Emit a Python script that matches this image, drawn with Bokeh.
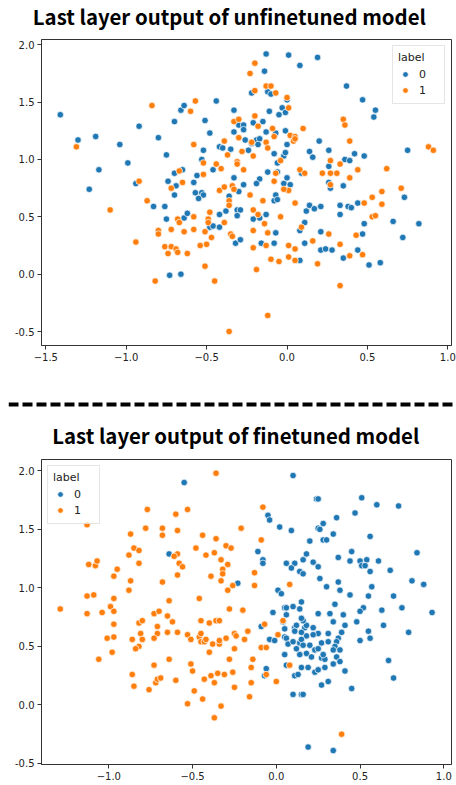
from bokeh.plotting import figure
from bokeh.layouts import column, row
from bokeh.models import Range1d, FixedTicker, CustomJSTickFormatter, PrintfTickFormatter, Span, Label
from bokeh.embed import file_html
from bokeh.resources import INLINE

# ---------------- data: unfinetuned (top) ----------------
top_title = "Last layer output of unfinetuned model"
top_x0 = [-1.41,-1.30,-1.19,-1.04,-1.17,-0.99,-0.92,-0.94,-0.80,-0.75,-0.74,-0.70,-0.66,-0.64,-0.70,-0.65,-0.69,-0.53,-0.52,-0.51,
          -0.48,-0.44,-0.56,-0.46,-0.58,-0.42,-0.40,-0.35,-0.33,-0.30,-0.27,-0.27,-0.33,-0.26,-0.24,-0.22,-0.19,-0.17,-0.18,-0.21,
          -0.15,-0.13,-0.07,-0.11,-0.05,-0.03,-0.01,0.00,-0.01,0.00,-0.02,-0.01,-0.06,-0.08,0.00,-0.06,-0.12,-0.17,-0.19,-0.27,
          -0.33,-0.14,-0.13,-0.22,-0.12,-0.10,0.01,0.08,0.19,0.09,0.14,0.16,0.20,0.26,0.26,0.26,0.37,0.36,0.39,0.42,
          0.48,0.47,0.55,0.54,0.35,0.75,0.27,
          -1.23,-0.70,-0.57,-0.53,-0.52,-0.55,-0.30,-0.36,-0.83,-0.76,-0.75,-0.64,-0.62,-0.48,-0.46,-0.42,-0.42,-0.38,-0.73,-0.66,
          -0.31,-0.29,-0.31,-0.32,-0.29,-0.21,-0.17,-0.13,-0.16,-0.08,-0.08,-0.07,-0.06,-0.07,0.08,0.08,0.11,0.12,0.14,0.17,
          0.21,0.11,0.21,0.21,0.24,0.28,0.33,0.33,0.38,0.40,0.44,0.48,0.47,0.44,0.35,0.51,0.58,0.66,0.72,0.82,
          0.73,-0.02,0.02]
top_y0 = [1.39,1.17,1.20,1.13,0.91,0.97,1.29,0.79,1.19,1.04,0.81,1.33,1.43,1.47,0.88,0.91,0.77,1.00,1.08,1.34,
          1.23,1.51,0.86,0.91,0.80,1.11,1.10,1.09,1.43,1.30,1.30,1.26,1.24,1.17,1.08,1.14,1.17,1.18,1.13,1.32,
          1.33,1.24,1.23,1.42,1.39,1.45,1.41,1.52,1.25,1.13,1.03,1.06,0.97,1.05,0.84,0.89,0.89,0.83,0.79,0.78,
          0.84,1.77,1.92,1.58,1.59,1.57,1.91,1.82,1.89,0.88,1.07,1.02,1.16,1.08,0.94,0.80,1.64,1.00,0.99,1.05,
          1.03,1.52,1.43,1.37,0.77,1.08,0.75,
          0.74,0.69,0.71,0.71,0.69,0.66,0.72,0.68,0.59,0.59,0.48,0.49,0.53,0.41,0.42,0.52,0.41,0.55,-0.01,0.00,
          0.56,0.56,0.51,0.27,0.30,0.48,0.49,0.52,0.27,0.27,0.64,0.69,0.65,0.36,0.12,0.38,0.45,0.55,0.60,0.57,
          0.59,0.27,0.37,0.21,0.22,0.21,0.60,0.52,0.59,0.58,0.62,0.44,0.35,0.21,0.14,0.08,0.10,0.46,0.32,0.44,
          0.67,0.79,0.78]
top_x1 = [-1.31,-0.92,-0.84,-0.60,-0.57,-0.67,-0.65,-0.58,-0.52,-0.52,-0.44,-0.41,-0.39,-0.37,-0.33,-0.30,-0.30,-0.28,-0.21,-0.22,
          -0.18,-0.20,-0.13,-0.09,-0.08,-0.12,0.00,0.01,0.02,0.05,0.04,0.05,-0.04,-0.07,-0.08,-0.31,-0.31,-0.27,-0.34,-0.23,
          -0.20,-0.20,-0.13,-0.10,-0.07,0.10,0.08,0.11,0.22,0.27,0.27,0.31,0.27,0.33,0.35,0.36,0.39,0.39,0.44,0.62,
          0.88,0.91,
          -0.72,-0.42,-0.39,-0.33,-0.23,-0.36,-0.36,-0.87,-1.10,-0.80,-0.80,-0.72,-0.94,-0.76,-0.72,-0.69,-0.74,-0.68,-0.62,-0.68,
          -0.67,-0.64,-0.58,-0.58,-0.54,-0.50,-0.51,-0.48,-0.49,-0.49,-0.47,-0.39,-0.51,-0.45,-0.82,-0.35,-0.34,-0.36,-0.21,-0.18,
          -0.15,-0.21,-0.14,-0.12,-0.13,-0.21,-0.10,-0.05,-0.19,-0.12,-0.04,0.01,-0.02,0.05,0.01,0.05,0.01,0.05,0.09,0.16,
          0.19,0.26,0.48,0.43,0.33,0.47,0.39,0.33,0.53,0.59,0.59,0.53,0.55,0.71]
top_y1 = [1.11,0.81,1.47,1.42,1.51,0.90,0.80,1.13,0.97,0.87,0.96,0.92,1.16,1.04,1.33,1.35,1.19,1.07,1.03,1.15,
          1.29,1.38,1.15,1.27,1.20,1.10,1.54,1.45,1.21,1.20,1.16,1.18,0.99,0.88,0.81,0.98,0.96,0.91,0.77,1.75,
          1.84,1.60,1.64,1.64,1.58,1.27,0.91,0.88,0.88,0.99,0.88,0.88,0.78,0.96,1.35,1.30,1.16,0.84,0.91,0.92,
          1.11,1.08,
          0.75,0.73,0.76,0.74,0.69,0.64,0.60,0.64,0.56,0.38,0.35,0.39,0.28,0.24,0.24,0.22,0.18,0.19,0.18,0.48,
          0.45,0.37,0.39,0.50,0.25,0.26,0.37,0.54,0.48,0.45,0.32,0.45,0.07,-0.06,-0.06,0.35,0.33,-0.50,0.56,0.52,
          0.64,0.38,0.44,0.36,0.25,0.23,0.13,0.11,0.04,-0.36,0.50,0.73,0.74,0.62,0.25,0.22,0.15,0.12,0.41,0.29,
          0.09,0.35,0.62,0.34,0.26,0.17,0.16,-0.10,0.67,0.72,0.61,0.50,0.51,0.75]
top_xrange = (-1.527, 1.023)
top_yrange = (-0.622, 2.046)
top_xticks = [-1.5, -1.0, -0.5, 0.0, 0.5, 1.0]
top_yticks = [-0.5, 0.0, 0.5, 1.0, 1.5, 2.0]

# ---------------- data: finetuned (bottom) ----------------
bot_title = "Last layer output of finetuned model"
bot_x0 = [-0.55,0.10,-0.64,-0.11,-0.08,-0.08,-0.05,-0.04,0.02,0.09,0.20,0.24,0.25,0.25,0.26,0.28,0.28,0.30,0.34,0.36,
          0.47,0.51,0.60,0.73,0.56,0.45,0.37,0.18,0.16,0.22,0.25,0.06,0.11,0.09,0.14,0.16,0.26,0.44,0.50,0.54,
          0.61,0.51,0.53,0.56,0.68,0.84,0.81,0.37,
          -0.23,0.30,0.38,0.44,0.55,0.57,0.70,0.88,0.75,0.93,0.79,0.63,0.64,0.52,0.50,0.55,0.56,0.50,0.48,0.67,
          0.70,0.45,0.41,0.35,0.32,0.40,0.34,0.41,0.39,0.37,0.36,0.35,0.34,0.38,0.36,0.38,0.34,0.31,0.27,0.31,
          0.25,0.25,0.22,0.22,0.18,0.17,0.18,0.16,0.15,0.15,0.14,0.10,0.05,0.06,0.06,-0.02,-0.09,0.01,0.03,0.04,
          0.05,0.05,0.06,0.07,0.05,0.06,0.11,0.12,0.11,0.15,0.10,0.12,0.14,0.15,0.16,0.18,0.14,0.20,0.21,0.23,
          0.25,0.27,0.29,0.28,0.23,0.25,0.29,0.15,0.19,0.11,0.13,0.27,0.31,0.10,0.15,0.16,0.19,0.34,-0.06,-0.07,
          -0.04,-0.01]
bot_y0 = [1.90,1.96,1.29,1.31,1.24,1.21,1.62,1.58,1.52,1.49,1.40,1.76,1.76,1.51,1.50,1.55,1.41,1.41,1.46,1.60,
          1.64,1.77,1.71,1.70,1.44,1.31,1.26,1.29,1.24,1.22,1.18,1.21,1.21,1.17,1.14,1.12,1.08,1.23,1.23,1.24,
          1.23,1.19,1.19,1.14,1.15,1.30,1.06,1.05,
          1.04,1.01,0.98,0.94,0.93,1.01,0.93,1.03,0.83,0.79,0.62,0.81,0.68,0.83,0.80,0.63,0.57,0.55,0.71,0.38,
          0.23,0.14,0.29,0.86,0.78,0.77,0.71,0.68,0.62,0.57,0.54,0.50,0.47,0.47,0.41,0.37,0.35,0.61,0.53,0.54,
          0.78,0.61,0.66,0.60,0.59,0.66,0.68,0.72,0.74,0.88,0.82,0.84,0.83,0.83,0.77,0.79,0.67,0.98,0.95,0.71,
          0.65,0.58,0.57,0.52,0.43,0.34,0.66,0.68,0.63,0.62,0.54,0.48,0.53,0.56,0.51,0.44,0.43,0.51,0.41,0.47,
          0.48,0.40,0.39,0.43,0.28,0.30,0.32,0.32,0.32,0.25,0.26,0.17,0.20,0.09,0.09,0.09,-0.36,-0.39,0.31,0.25,
          0.56,0.55]
bot_x1 = [-0.36,-1.13,-0.77,-0.60,-0.53,-0.87,-0.78,-0.68,-0.68,-0.59,-0.44,-0.36,-0.21,-0.08,-0.09,-0.85,-0.82,-0.88,-0.82,-1.12,
          -1.08,-1.07,-0.95,-0.97,-0.87,-0.68,-0.59,-0.61,-0.58,-0.56,-0.59,-0.48,-0.42,-0.37,-0.30,-0.27,-0.33,-0.29,-0.32,-0.32,
          -0.39,-0.13,
          -0.33,-0.26,-0.29,-0.13,0.08,0.39,0.04,0.01,0.00,0.08,-0.07,-0.09,-0.06,-0.06,-1.29,-1.13,-1.09,-1.13,-0.97,-0.88,
          -0.99,-1.04,-0.97,-0.97,-1.01,-0.97,-1.06,-0.98,-0.86,-0.82,-0.80,-0.81,-0.80,-0.82,-0.84,-0.86,-0.85,-0.76,-0.73,-0.70,
          -0.71,-0.71,-0.73,-0.73,-0.72,-0.71,-0.69,-0.64,-0.65,-0.62,-0.65,-0.64,-0.60,-0.59,-0.53,-0.51,-0.51,-0.50,-0.53,-0.49,
          -0.46,-0.46,-0.45,-0.45,-0.45,-0.43,-0.42,-0.43,-0.44,-0.40,-0.40,-0.38,-0.39,-0.37,-0.37,-0.36,-0.34,-0.34,-0.34,-0.35,
          -0.33,-0.31,-0.30,-0.28,-0.25,-0.24,-0.25,-0.25,-0.28,-0.26,-0.20,-0.19,-0.17,-0.16,-0.15,-0.15,-0.14]
bot_y1 = [1.98,1.54,1.67,1.63,1.67,1.46,1.51,1.51,1.45,1.49,1.45,1.42,1.51,1.69,1.41,1.34,1.32,1.28,1.21,1.20,
          1.19,1.23,1.16,1.10,1.06,1.05,1.29,1.27,1.21,1.18,1.11,1.34,1.28,1.30,1.36,1.34,1.24,1.20,1.16,1.12,
          1.10,1.13,
          1.06,1.02,0.98,1.02,1.03,-0.25,0.72,0.60,0.20,0.34,0.69,0.49,0.49,0.26,0.82,0.93,0.94,0.78,0.91,0.98,
          0.84,0.79,0.80,0.69,0.57,0.58,0.39,0.45,0.56,0.70,0.72,0.61,0.56,0.50,0.48,0.26,0.16,0.13,0.78,0.80,
          0.67,0.61,0.57,0.34,0.19,0.22,0.23,0.89,0.76,0.71,0.62,0.39,0.21,0.62,0.60,0.56,0.35,0.29,0.01,0.12,
          0.91,0.58,0.72,0.61,0.54,0.54,0.56,0.22,0.05,0.70,0.45,0.52,0.25,0.19,-0.11,0.72,0.72,0.52,0.55,0.27,
          -0.01,0.26,0.57,0.82,0.61,0.59,0.48,0.15,0.39,0.28,0.81,0.56,0.63,0.07,0.19,0.32,0.39]
bot_xrange = (-1.402, 1.046)
bot_yrange = (-0.509, 2.097)
bot_xticks = [-1.0, -0.5, 0.0, 0.5, 1.0]
bot_yticks = [-0.5, 0.0, 0.5, 1.0, 1.5, 2.0]

labels = ["0", "1"]
colors = ["#1f77b4", "#ff7f0e"]

TITLE_FONT = "Noto Sans CJK KR"
TICK_FONT = "DejaVu Sans"
AX_COLOR = "#333333"
W = 456


def blank_fig(height, left=0):
    f = figure(width=W, height=height, x_range=Range1d(0, 1), y_range=Range1d(0, 1),
               toolbar_location=None, output_backend="svg", x_axis_type=None,
               y_axis_type=None, min_border=0, min_border_left=left)
    f.outline_line_color = None
    f.xgrid.visible = False
    f.ygrid.visible = False
    return f


def title_fig(text, height, cx, cy):
    f = blank_fig(height)
    f.add_layout(Label(x=cx, y=cy, text=text, text_align="center", text_baseline="middle",
                       text_font=TITLE_FONT, text_font_size="20.4px",
                       text_font_style="bold", text_color="black"))
    return f


def make_plot(xs, ys, xr, yr, xticks, yticks, legend_loc, height, bottom_border):
    p = figure(width=W, height=height, x_range=Range1d(*xr), y_range=Range1d(*yr),
               toolbar_location=None, output_backend="svg",
               min_border_left=41, min_border_right=5, min_border_top=1,
               min_border_bottom=bottom_border)
    p.xgrid.visible = False
    p.ygrid.visible = False
    p.outline_line_color = AX_COLOR
    p.outline_line_width = 1
    p.outline_line_alpha = 1
    for ax in (p.xaxis[0], p.yaxis[0]):
        ax.axis_line_color = AX_COLOR
        ax.major_tick_line_color = AX_COLOR
        ax.major_tick_out = 4
        ax.major_tick_in = 0
        ax.minor_tick_line_color = None
        ax.major_label_text_font = TICK_FONT
        ax.major_label_text_font_size = "10px"
        ax.major_label_text_color = "#222222"
        ax.major_label_standoff = 3
    p.xaxis[0].ticker = FixedTicker(ticks=xticks)
    p.yaxis[0].ticker = FixedTicker(ticks=yticks)
    p.xaxis[0].formatter = CustomJSTickFormatter(code="return tick.toFixed(1).replace('-', '\u2212');")
    p.yaxis[0].formatter = PrintfTickFormatter(format="%.1f")

    for x, y, lab, col in zip(xs, ys, labels, colors):
        p.scatter(x, y, size=6.5, fill_color=col, line_color="white", line_width=0.7,
                  legend_label=lab)

    lg = p.legend[0]
    lg.location = legend_loc
    lg.title = "label"
    lg.title_text_font = TICK_FONT
    lg.title_text_font_size = "11px"
    lg.title_text_font_style = "normal"
    lg.title_text_color = "#222222"
    lg.title_standoff = 2
    lg.label_text_font = TICK_FONT
    lg.label_text_font_size = "11px"
    lg.label_text_color = "#222222"
    lg.glyph_width = 14
    lg.glyph_height = 16
    lg.label_height = 16
    lg.label_standoff = 7
    lg.spacing = 0
    lg.padding = 5
    lg.margin = 6
    lg.border_line_color = "#cccccc"
    lg.border_line_width = 1
    lg.background_fill_alpha = 0.8
    return p


# title figures are wrapped in their own rows so their frames span the full width
t1 = title_fig(top_title, 38, 0.502, 0.6)
top = make_plot([top_x0, top_x1], [top_y0, top_y1], top_xrange, top_yrange,
                top_xticks, top_yticks, "top_right", 352, 45)

sep = blank_fig(28, left=8)
sep.add_layout(Span(location=0.5, dimension="width", line_color="black", line_width=4,
                    line_dash="10 4"))

t2 = title_fig(bot_title, 40, 0.516, 0.58)
bot = make_plot([bot_x0, bot_x1], [bot_y0, bot_y1], bot_xrange, bot_yrange,
                bot_xticks, bot_yticks, "top_left", 327, 21)

layout = column(row(t1), top, row(sep), row(t2), bot, spacing=0)
open("out.html", "w").write(file_html(layout, INLINE))
